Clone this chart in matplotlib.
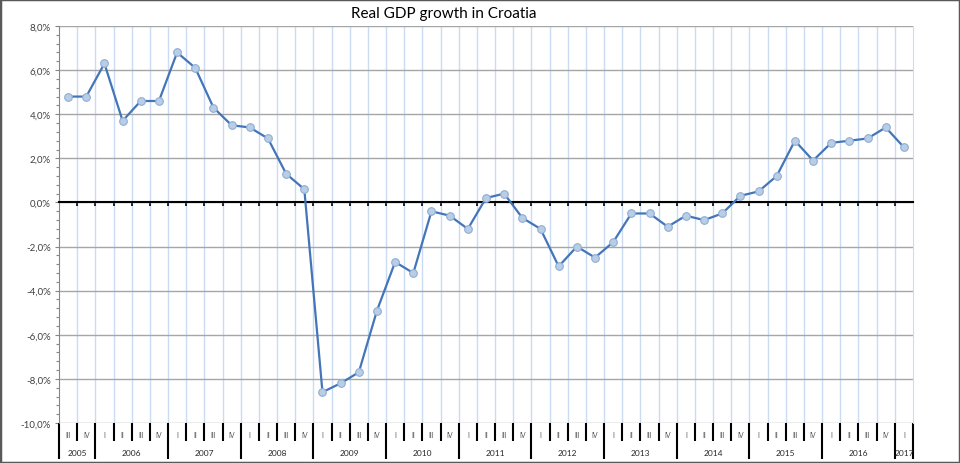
import matplotlib
import matplotlib.pyplot as plt
from matplotlib.patches import Rectangle
from matplotlib.ticker import FuncFormatter, MultipleLocator
import numpy as np

plt.switch_backend('agg')
plt.rcParams['font.family'] = ['Lato', 'DejaVu Sans']

# quarterly real GDP growth, % y/y, 2005 Q3 .. 2017 Q1
years = ['2005', '2006', '2007', '2008', '2009', '2010', '2011',
         '2012', '2013', '2014', '2015', '2016', '2017']
quarters_per_year = [2, 4, 4, 4, 4, 4, 4, 4, 4, 4, 4, 4, 1]
first_quarter = ['III', 'I', 'I', 'I', 'I', 'I', 'I', 'I', 'I', 'I', 'I', 'I', 'I']
roman = ['I', 'II', 'III', 'IV']

gdp = [4.8, 4.8,
       6.3, 3.7, 4.6, 4.6,
       6.8, 6.1, 4.3, 3.5,
       3.4, 2.9, 1.3, 0.6,
       -8.6, -8.2, -7.7, -4.9,
       -2.7, -3.2, -0.4, -0.6,
       -1.2, 0.2, 0.4, -0.7,
       -1.2, -2.9, -2.0, -2.5,
       -1.8, -0.5, -0.5, -1.1,
       -0.6, -0.8, -0.5, 0.3,
       0.5, 1.2, 2.8, 1.9,
       2.7, 2.8, 2.9, 3.4,
       2.5]

# build quarter labels
qlabels = []
for fq, n in zip(first_quarter, quarters_per_year):
    start = roman.index(fq)
    qlabels += roman[start:start + n]

n = len(gdp)
x = np.arange(n)

fig = plt.figure(figsize=(9.6, 4.64), dpi=100)
ax = fig.add_axes([59/960, 1 - 424/464, 854/960, 397/464])

ax.plot(x, gdp, color='#4475b8', lw=1.6, marker='o', ms=5.5,
        mfc='#b9cde5', mec='#8eaed6', mew=0.8, zorder=5)

ax.set_xlim(-0.5, n - 0.5)
ax.set_ylim(-10, 8)

# y axis
ax.yaxis.set_major_locator(MultipleLocator(2))
ax.yaxis.set_minor_locator(MultipleLocator(0.4))
ax.yaxis.set_major_formatter(FuncFormatter(lambda v, p: f'{v:.1f}%'.replace('.', ',')))
ax.tick_params(axis='y', which='major', length=3, width=0.8, color='#868686',
               labelsize=7, labelcolor='#404040', pad=3)
ax.tick_params(axis='y', which='minor', length=2, width=0.8, color='#868686')
ax.grid(axis='y', which='major', color='#a6a6a6', lw=1.0)

# category boundaries: light blue grid, ticks on the zero line
bounds = np.arange(1, n) - 0.5
ax.set_xticks(bounds)
ax.set_xticklabels([])
ax.tick_params(axis='x', which='major', direction='out', length=3, width=1.2,
               color='black', labelbottom=False)
for b in bounds:
    ax.axvline(b, color='#cbdcf2', lw=1.0, zorder=0)

ax.spines['bottom'].set_position(('data', 0))
ax.spines['bottom'].set_color('black')
ax.spines['bottom'].set_linewidth(1.5)
ax.spines['bottom'].set_zorder(4)
ax.spines['top'].set_visible(False)
ax.spines['right'].set_color('#cbdcf2')
ax.spines['left'].set_color('#868686')
ax.set_axisbelow(True)

# category table below the plot
tr = ax.get_xaxis_transform()
qy, yy = -11/397, -29/397
short_end, long_end = -18/397, -36/397
for i, q in enumerate(qlabels):
    ax.text(i, qy, q, transform=tr, ha='center', va='center',
            fontsize=5, color='#595959', clip_on=False)

year_edges = np.concatenate([[0], np.cumsum(quarters_per_year)]) - 0.5
for k in range(len(years)):
    lo, hi = year_edges[k], year_edges[k + 1]
    ax.text((lo + hi) / 2, yy, years[k], transform=tr, ha='center', va='center',
            fontsize=6, color='#262626', clip_on=False)

for e in np.arange(n + 1) - 0.5:
    end = long_end if e in year_edges else short_end
    ax.plot([e, e], [0, end], transform=tr, color='black', lw=1.5,
            clip_on=False, solid_capstyle='butt')

fig.text(444/960, 1 - 14/464, 'Real GDP growth in Croatia', ha='center',
         va='center', fontsize=11, color='black')

fig.patches.append(Rectangle((0, 0), 1, 1, transform=fig.transFigure,
                             fill=False, edgecolor='#595959', lw=2.5))

plt.savefig('out.png', dpi=100)
